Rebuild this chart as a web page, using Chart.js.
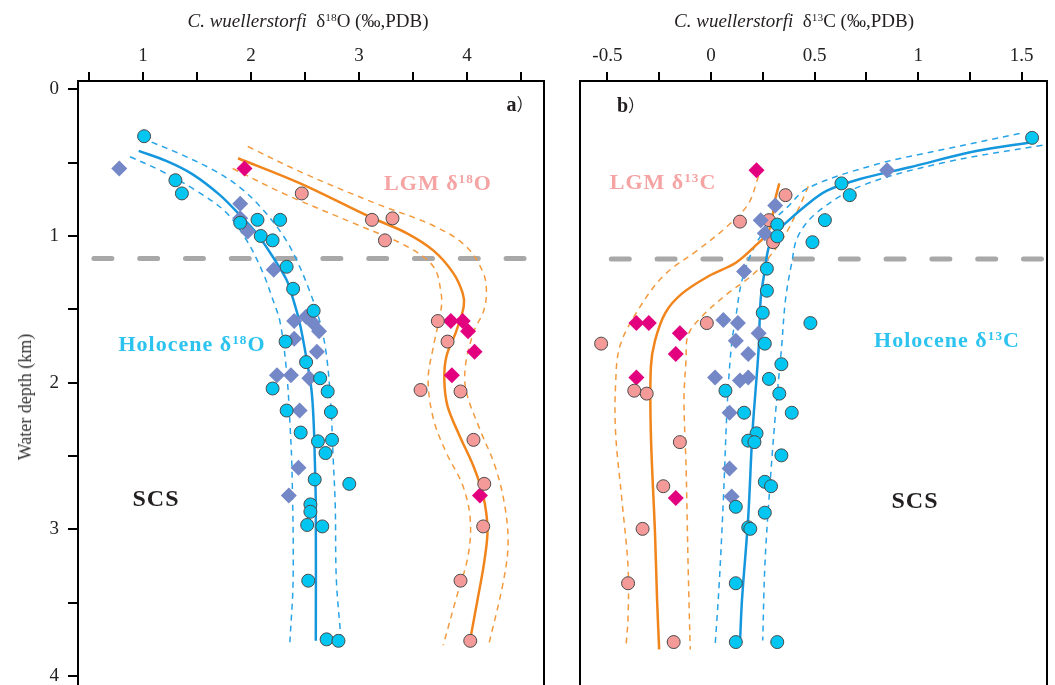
<!DOCTYPE html>
<html>
<head>
<meta charset="utf-8">
<script src="https://cdn.jsdelivr.net/npm/chart.js@4.4.1/dist/chart.umd.min.js"></script>
<style>
  html, body { margin:0; padding:0; background:#fff; overflow:hidden; width:1055px; height:685px; }
  #wrap { position:relative; width:1055px; height:685px; overflow:hidden; font-family:"Liberation Serif","Times New Roman",serif; color:#231f20; }
  canvas { position:absolute; top:0; }
  #chart-a { left:0; }
  #chart-b { left:560px; }
  .lbl { position:absolute; white-space:nowrap; line-height:1; transform:translate(-50%,-50%); }
  .sup { font-size:0.6em; position:relative; top:-0.55em; }
  .ttl { font-size:19px; }
  .tag { font-weight:bold; font-size:22px; letter-spacing:1px; }
</style>
</head>
<body>
<div id="wrap">
  <canvas id="chart-a" width="560" height="740"></canvas>
  <canvas id="chart-b" width="495" height="740"></canvas>

  <div class="lbl ttl" style="left:308px;top:20px"><i>C. wuellerstorfi</i>&nbsp; δ<span class="sup">18</span>O (‰,PDB)</div>
  <div class="lbl ttl" style="left:794px;top:20px"><i>C. wuellerstorfi</i>&nbsp; δ<span class="sup">13</span>C (‰,PDB)</div>
  <div class="lbl ttl" style="left:25px;top:397px;transform:translate(-50%,-50%) rotate(-90deg);font-size:18px;color:#333">Water depth (km)</div>

  <div class="lbl" style="left:520px;top:104px;font-weight:bold;font-size:20px">a<span style="font-family:'Noto Sans CJK SC';font-weight:normal;font-size:17px">）</span></div>
  <div class="lbl" style="left:631px;top:105px;font-weight:bold;font-size:20px">b<span style="font-family:'Noto Sans CJK SC';font-weight:normal;font-size:17px">）</span></div>

  <div class="lbl tag" style="left:438px;top:183px;color:#f5a3a3">LGM δ<span class="sup">18</span>O</div>
  <div class="lbl tag" style="left:192px;top:344px;color:#2cc3ef">Holocene δ<span class="sup">18</span>O</div>
  <div class="lbl tag" style="left:156px;top:498px;font-size:24px">SCS</div>

  <div class="lbl tag" style="left:663px;top:182px;color:#f5a3a3">LGM δ<span class="sup">13</span>C</div>
  <div class="lbl tag" style="left:947px;top:340px;color:#2cc3ef">Holocene δ<span class="sup">13</span>C</div>
  <div class="lbl tag" style="left:915px;top:500px;font-size:24px">SCS</div>
</div>

<script>
// ---- data: [value (‰), water depth (km)] ----
const holoO18Circles = [[1.01,0.32],[1.30,0.62],[1.36,0.71],[1.90,0.91],[2.06,0.89],[2.27,0.89],[2.09,1.00],[2.20,1.03],[2.33,1.21],[2.39,1.36],[2.58,1.51],[2.32,1.72],[2.51,1.86],[2.64,1.97],[2.71,2.06],[2.20,2.04],[2.74,2.20],[2.33,2.19],[2.46,2.34],[2.62,2.40],[2.75,2.39],[2.69,2.48],[2.59,2.66],[2.91,2.69],[2.55,2.83],[2.55,2.88],[2.52,2.97],[2.66,2.98],[2.53,3.35],[2.70,3.75],[2.81,3.76]];
const holoO18Diamonds = [[0.78,0.54],[1.90,0.78],[1.90,0.88],[1.97,0.97],[2.21,1.23],[2.40,1.58],[2.51,1.55],[2.57,1.59],[2.63,1.65],[2.40,1.70],[2.61,1.79],[2.24,1.95],[2.37,1.95],[2.54,1.97],[2.45,2.19],[2.44,2.58],[2.35,2.77]];
const lgmO18Circles = [[2.47,0.71],[3.12,0.89],[3.31,0.88],[3.24,1.03],[3.73,1.58],[3.82,1.72],[3.57,2.05],[3.94,2.06],[4.06,2.39],[4.16,2.69],[4.15,2.98],[3.94,3.35],[4.03,3.76]];
const lgmO18Diamonds = [[1.94,0.54],[3.85,1.58],[3.96,1.58],[4.01,1.65],[4.07,1.79],[3.86,1.95],[4.12,2.77]];

const holoO18Fit = [[0.96,0.42],[1.22,0.49],[1.46,0.58],[1.71,0.72],[1.90,0.86],[2.05,0.98],[2.20,1.14],[2.33,1.30],[2.39,1.43],[2.45,1.59],[2.51,1.82],[2.56,2.05],[2.58,2.27],[2.59,2.50],[2.60,2.84],[2.60,3.76]];
const holoO18Lo = [[0.88,0.46],[1.15,0.55],[1.49,0.69],[1.77,0.84],[1.96,1.03],[2.11,1.25],[2.20,1.43],[2.27,1.59],[2.33,1.93],[2.36,2.27],[2.38,2.61],[2.39,3.34],[2.36,3.77]];
const holoO18Hi = [[1.08,0.36],[1.34,0.44],[1.65,0.55],[1.90,0.67],[2.11,0.82],[2.30,1.00],[2.42,1.16],[2.54,1.37],[2.64,1.59],[2.70,1.82],[2.74,2.16],[2.76,2.50],[2.78,2.84],[2.79,3.34],[2.83,3.72]];
const lgmO18Fit = [[1.88,0.47],[2.45,0.64],[3.10,0.87],[3.44,0.98],[3.69,1.10],[3.87,1.25],[3.96,1.39],[3.97,1.48],[3.90,1.65],[3.81,1.82],[3.79,1.98],[3.82,2.16],[3.93,2.36],[4.06,2.57],[4.15,2.77],[4.19,3.00],[4.16,3.22],[4.10,3.47],[4.03,3.75]];
const lgmO18Lo = [[1.83,0.54],[2.33,0.72],[2.94,0.91],[3.44,1.07],[3.69,1.21],[3.76,1.39],[3.76,1.50],[3.69,1.75],[3.64,1.98],[3.69,2.25],[3.81,2.48],[3.96,2.70],[4.03,2.93],[4.01,3.18],[3.90,3.47],[3.78,3.79]];
const lgmO18Hi = [[1.97,0.39],[2.48,0.57],[3.16,0.78],[3.69,0.93],[3.99,1.07],[4.15,1.25],[4.18,1.39],[4.15,1.52],[4.07,1.64],[3.99,1.86],[3.99,2.05],[4.12,2.32],[4.26,2.57],[4.35,2.84],[4.38,3.11],[4.33,3.38],[4.20,3.79]];

const holoC13Circles = [[1.55,0.33],[0.63,0.64],[0.67,0.72],[0.55,0.89],[0.49,1.04],[0.32,0.92],[0.32,1.00],[0.27,1.22],[0.27,1.37],[0.25,1.52],[0.48,1.59],[0.26,1.73],[0.34,1.87],[0.28,1.97],[0.33,2.07],[0.07,2.05],[0.16,2.20],[0.39,2.20],[0.22,2.34],[0.18,2.39],[0.21,2.40],[0.34,2.49],[0.26,2.67],[0.29,2.70],[0.12,2.84],[0.26,2.88],[0.18,2.98],[0.19,2.99],[0.12,3.36],[0.12,3.76],[0.32,3.76]];
const holoC13Diamonds = [[0.85,0.55],[0.31,0.79],[0.24,0.89],[0.26,0.98],[0.16,1.24],[0.06,1.57],[0.13,1.59],[0.23,1.66],[0.12,1.71],[0.18,1.80],[0.02,1.96],[0.14,1.98],[0.18,1.96],[0.09,2.20],[0.09,2.58],[0.10,2.77]];
const lgmC13Circles = [[0.36,0.72],[0.28,0.89],[0.14,0.90],[0.30,1.04],[-0.02,1.59],[-0.53,1.73],[-0.37,2.05],[-0.31,2.07],[-0.15,2.40],[-0.23,2.70],[-0.33,2.99],[-0.40,3.36],[-0.18,3.76]];
const lgmC13Diamonds = [[0.22,0.55],[-0.36,1.59],[-0.30,1.59],[-0.15,1.66],[-0.17,1.80],[-0.36,1.96],[-0.17,2.78]];

const holoC13Fit = [[1.55,0.36],[1.28,0.42],[0.96,0.53],[0.72,0.61],[0.56,0.69],[0.45,0.80],[0.36,0.91],[0.32,0.96],[0.28,1.07],[0.26,1.23],[0.24,1.43],[0.23,1.77],[0.20,2.34],[0.18,2.91],[0.15,3.47],[0.14,3.77]];
const holoC13Lo = [[1.49,0.30],[1.12,0.41],[0.80,0.51],[0.47,0.67],[0.37,0.80],[0.29,0.91],[0.21,1.07],[0.15,1.30],[0.12,1.55],[0.10,1.73],[0.08,2.11],[0.06,2.79],[0.04,3.36],[0.02,3.79]];
const holoC13Hi = [[1.60,0.38],[1.12,0.50],[0.72,0.66],[0.51,0.84],[0.42,1.00],[0.39,1.18],[0.36,1.43],[0.34,1.77],[0.31,2.23],[0.28,2.79],[0.26,3.25],[0.25,3.75]];
const lgmC13Fit = [[0.33,0.64],[0.31,0.75],[0.28,0.96],[0.21,1.07],[0.12,1.18],[-0.01,1.27],[-0.14,1.39],[-0.22,1.52],[-0.27,1.71],[-0.29,1.89],[-0.29,2.34],[-0.27,3.02],[-0.26,3.47],[-0.25,3.81]];
const lgmC13Lo = [[0.23,0.59],[0.18,0.78],[0.08,0.93],[-0.06,1.09],[-0.23,1.27],[-0.36,1.52],[-0.44,1.75],[-0.46,2.00],[-0.46,2.34],[-0.43,2.79],[-0.40,3.25],[-0.40,3.59],[-0.41,3.79]];
const lgmC13Hi = [[0.47,0.66],[0.42,0.82],[0.34,1.03],[0.21,1.25],[0.08,1.39],[-0.04,1.54],[-0.11,1.67],[-0.12,1.84],[-0.13,2.11],[-0.12,2.57],[-0.11,3.25],[-0.10,3.81]];

// boundary line (km) and axis ranges
const boundaryDepth = 1.154;
const depthRange = [-0.0565, 4.297];
const o18Range = [0.398, 4.713];
const c13Range = [-0.632, 1.622];

const SERIF = "'Liberation Serif','Times New Roman',serif";
const C = {
  holo:'#00c6f1', holoDia:'#7487c6', lgm:'#f49a99', lgmDia:'#e2007e',
  blue:'#1597dd', blueDash:'#27a3e8', orange:'#f1841b', orangeDash:'#f39a3e', grey:'#a8a8a8',
};

const xy = (arr) => arr.map(([x, y]) => ({ x, y }));

function pointSet(data, style, fill) {
  const dia = style === 'rectRot';
  return { data: xy(data), pointStyle: style, pointRadius: dia ? 8 : 6.5, backgroundColor: fill,
    borderColor: dia ? fill : '#4a4a4a', borderWidth: dia ? 0 : 1 };
}
function curveSet(data, color, width, dash) {
  return { data: xy(data), showLine: true, pointRadius: 0, borderColor: color, borderWidth: width,
    borderDash: dash || [], tension: 0.35, fill: false };
}
function boundarySet(xStart, xEnd) {
  return { data: xy([[xStart, boundaryDepth], [xEnd, boundaryDepth]]), showLine: true, pointRadius: 0,
    borderColor: C.grey, borderWidth: 5, borderDash: [18, 27.8], borderCapStyle: 'round', tension: 0 };
}

// right-hand side of the panel frame
const frameRight = {
  id: 'frameRight',
  afterDraw(chart) {
    const { ctx, chartArea: a } = chart;
    ctx.save(); ctx.strokeStyle = '#000'; ctx.lineWidth = 2;
    ctx.beginPath(); ctx.moveTo(a.right, a.top - 1); ctx.lineTo(a.right, a.bottom); ctx.stroke();
    ctx.restore();
  }
};

function makeChart(id, datasets, xr, xStep, xLabel, yLeft, padRight) {
  return new Chart(document.getElementById(id), {
    type: 'scatter',
    data: { datasets },
    plugins: [frameRight],
    options: {
      responsive: false, animation: false, devicePixelRatio: 1,
      layout: { padding: { left: 0, right: padRight, top: 0, bottom: 19 } },
      plugins: { legend: { display: false }, tooltip: { enabled: false } },
      scales: {
        x: {
          type: 'linear', position: 'top', min: xr[0], max: xr[1],
          afterFit: (s) => { s.height = 81; },
          ticks: { stepSize: xStep, includeBounds: false, autoSkip: false, maxRotation: 0, padding: 5,
            color: '#222', font: { family: SERIF, size: 19 }, callback: xLabel },
          grid: { drawOnChartArea: false, tickLength: 9, lineWidth: 2, color: '#000' },
          border: { display: true, color: '#000', width: 2 },
        },
        y: yLeft ? {
          type: 'linear', reverse: true, min: depthRange[0], max: depthRange[1],
          afterFit: (s) => { s.width = 78; },
          ticks: { stepSize: 0.5, includeBounds: false, autoSkip: false, padding: 9, color: '#222',
            font: { family: SERIF, size: 19 }, callback: (v) => Number.isInteger(v) ? v : '' },
          grid: { drawOnChartArea: false, tickLength: 10, lineWidth: 2, color: '#000' },
          border: { display: true, color: '#000', width: 2 },
        } : {
          type: 'linear', reverse: true, min: depthRange[0], max: depthRange[1],
          afterFit: (s) => { s.width = 20; },
          ticks: { display: false }, grid: { display: false },
          border: { display: true, color: '#000', width: 2 },
        },
      },
    },
  });
}

makeChart('chart-a', [
  pointSet(holoO18Circles, 'circle', C.holo),
  pointSet(holoO18Diamonds, 'rectRot', C.holoDia),
  pointSet(lgmO18Circles, 'circle', C.lgm),
  pointSet(lgmO18Diamonds, 'rectRot', C.lgmDia),
  curveSet(holoO18Fit, C.blue, 2.5),
  curveSet(lgmO18Fit, C.orange, 2.5),
  curveSet(holoO18Lo, C.blueDash, 1.5, [6, 5]),
  curveSet(holoO18Hi, C.blueDash, 1.5, [6, 5]),
  curveSet(lgmO18Lo, C.orangeDash, 1.5, [6, 5]),
  curveSet(lgmO18Hi, C.orangeDash, 1.5, [6, 5]),
  boundarySet(0.545, o18Range[1]),
], o18Range, 0.5, (v) => Number.isInteger(v) ? v : '', true, 16);

makeChart('chart-b', [
  pointSet(holoC13Circles, 'circle', C.holo),
  pointSet(holoC13Diamonds, 'rectRot', C.holoDia),
  pointSet(lgmC13Circles, 'circle', C.lgm),
  pointSet(lgmC13Diamonds, 'rectRot', C.lgmDia),
  curveSet(holoC13Fit, C.blue, 2.5),
  curveSet(lgmC13Fit, C.orange, 2.5),
  curveSet(holoC13Lo, C.blueDash, 1.5, [6, 5]),
  curveSet(holoC13Hi, C.blueDash, 1.5, [6, 5]),
  curveSet(lgmC13Lo, C.orangeDash, 1.5, [6, 5]),
  curveSet(lgmC13Hi, C.orangeDash, 1.5, [6, 5]),
  boundarySet(-0.481, c13Range[1]),
], c13Range, 0.25, (v) => Number.isInteger(v * 2) ? String(Math.round(v * 10) / 10) : '', false, 1);
</script>
</body>
</html>
